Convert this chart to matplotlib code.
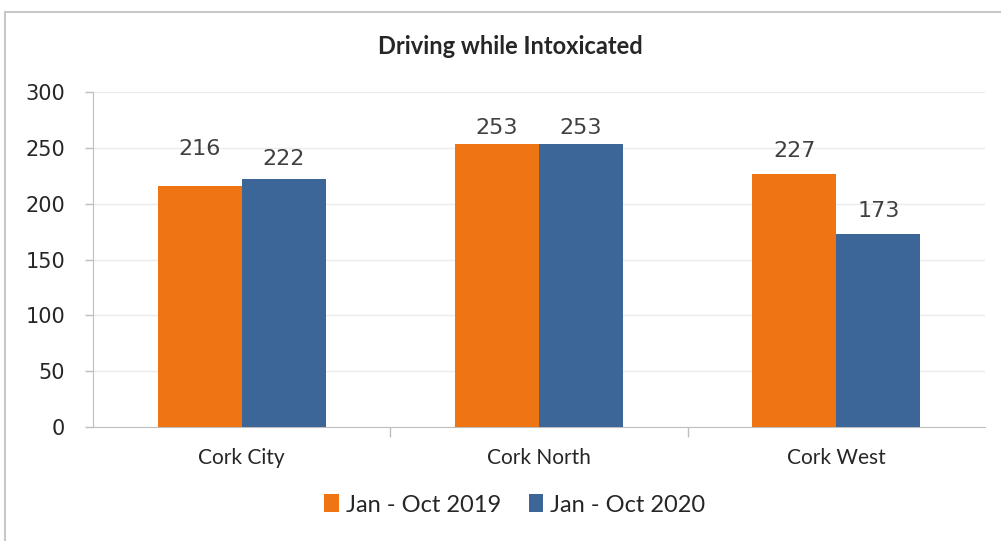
import numpy as np
import matplotlib
matplotlib.use('Agg')
import matplotlib.pyplot as plt
from matplotlib.patches import Rectangle

regions = ['Cork City', 'Cork North', 'Cork West']
series_names = ['Jan - Oct 2019', 'Jan - Oct 2020']
vals_2019 = [216, 253, 227]
vals_2020 = [222, 253, 173]

ORANGE = '#EF7414'
BLUE = '#3C6598'
GRID = '#EBEBEB'
AXIS = '#BFBFBF'
TXT = '#262626'

plt.rcParams['font.family'] = ['Lato', 'DejaVu Sans']

fig = plt.figure(figsize=(10.01, 5.41), dpi=100)
fig.patches.append(Rectangle((5 / 1001, -0.05), 1.2, 1 - 12 / 541 + 0.05,
                             transform=fig.transFigure, fill=False,
                             edgecolor='#C8C8C8', lw=1.5))

ax = fig.add_axes([93 / 1001, 1 - 427 / 541, 892 / 1001, 335 / 541])

x = np.arange(len(regions))
w = 0.283
b1 = ax.bar(x - w / 2, vals_2019, w, color=ORANGE, label=series_names[0], zorder=3)
b2 = ax.bar(x + w / 2, vals_2020, w, color=BLUE, label=series_names[1], zorder=3)

# label offsets (points) roughly as placed in the original
off1 = [19, 5, 9]
off2 = [7, 5, 9]
for bars, offs in ((b1, off1), (b2, off2)):
    for r, o in zip(bars, offs):
        ax.annotate(str(int(r.get_height())),
                    xy=(r.get_x() + r.get_width() / 2, r.get_height()),
                    xytext=(0, o), textcoords='offset points',
                    ha='center', va='bottom', fontsize=16, color='#404040',
                    family='DejaVu Sans')

ax.set_xlim(-0.5, 2.5)
ax.set_ylim(0, 300)
ax.set_yticks(range(0, 301, 50))
ax.tick_params(axis='y', labelsize=15, colors=AXIS, labelcolor=TXT, length=6, width=1, pad=14)
ax.set_yticklabels([str(v) for v in range(0, 301, 50)], family='DejaVu Sans')
ax.set_xticks(x)
ax.set_xticklabels(regions, fontsize=15, color=TXT)
ax.set_xticks([0.5, 1.5], minor=True)
ax.tick_params(axis='x', which='major', length=0, pad=15)
ax.tick_params(axis='x', which='minor', length=7, color=AXIS, width=1)
ax.grid(axis='y', color=GRID, lw=1, zorder=0)
for s in ['top', 'right']:
    ax.spines[s].set_visible(False)
ax.spines['left'].set_color(AXIS)
ax.spines['bottom'].set_color(AXIS)

fig.text(510 / 1001, 1 - 46 / 541, 'Driving while Intoxicated', ha='center', va='center',
         fontsize=17, fontweight='bold', color=TXT)

fig.legend(handles=[b1, b2], labels=series_names, loc='center',
           bbox_to_anchor=(515 / 1001, 1 - 505 / 541), ncol=2, frameon=False,
           fontsize=17, handlelength=0.6, handleheight=0.8, handletextpad=0.3,
           columnspacing=1.2, labelcolor=TXT)

fig.savefig('out.png', dpi=100)
